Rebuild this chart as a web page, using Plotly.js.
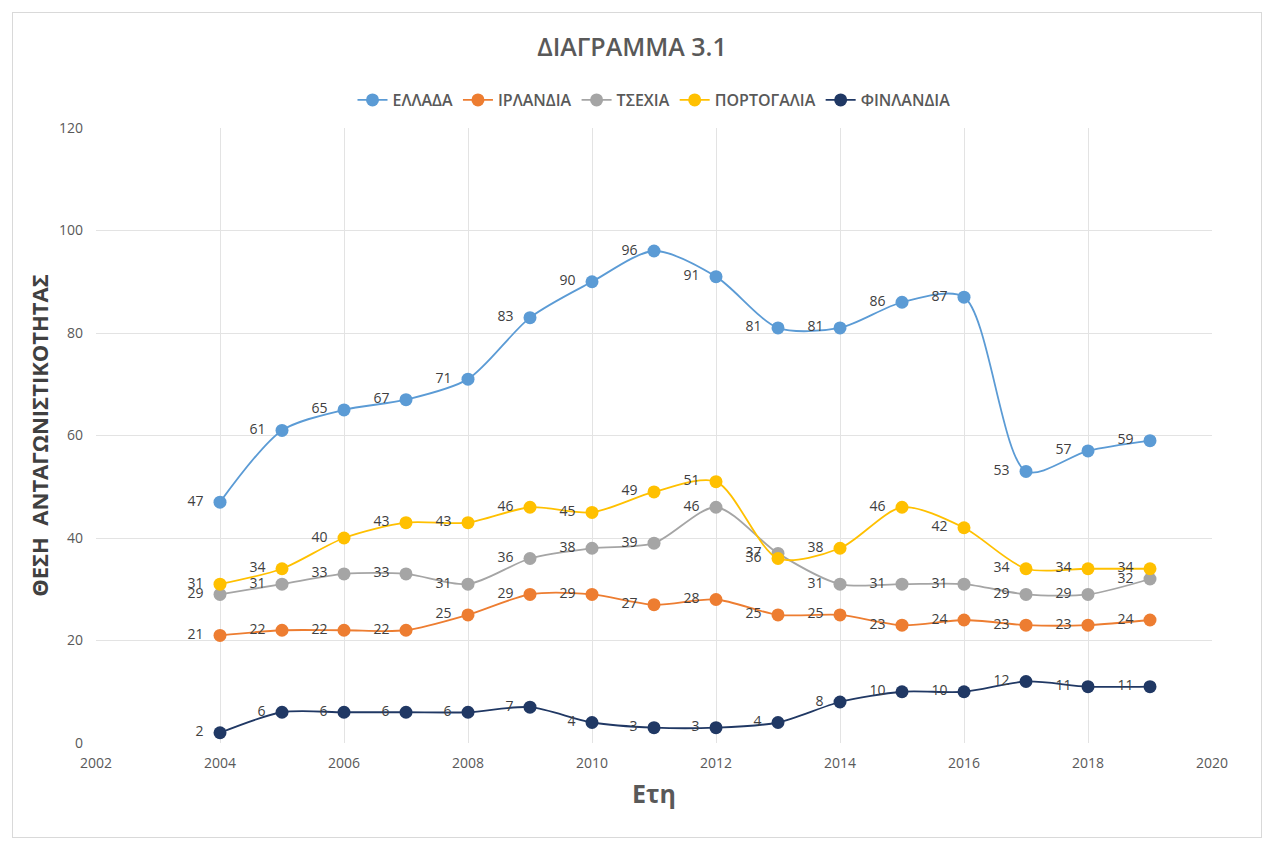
<!DOCTYPE html>
<html>
<head>
<meta charset="utf-8">
<script src="https://cdn.plot.ly/plotly-3.0.1.min.js"></script>
<style>
  html, body { margin: 0; padding: 0; background: #ffffff; }
  #wrap { position: relative; width: 1264px; height: 841px; }
  #chart { width: 1264px; height: 841px; }
  #frame { position: absolute; left: 12px; top: 12px; width: 1250px; height: 826px;
           border: 1px solid #d9d9d9; box-sizing: border-box; pointer-events: none; }
</style>
</head>
<body>
<div id="wrap">
  <div id="chart"></div>
  <div id="frame"></div>
</div>
<script>
const years = [2004, 2005, 2006, 2007, 2008, 2009, 2010, 2011, 2012, 2013, 2014, 2015, 2016, 2017, 2018, 2019];
const seriesNames = ["ΕΛΛΑΔΑ", "ΙΡΛΑΝΔΙΑ", "ΤΣΕΧΙΑ", "ΠΟΡΤΟΓΑΛΙΑ", "ΦΙΝΛΑΝΔΙΑ"];
const greece   = [47, 61, 65, 67, 71, 83, 90, 96, 91, 81, 81, 86, 87, 53, 57, 59];
const ireland  = [21, 22, 22, 22, 25, 29, 29, 27, 28, 25, 25, 23, 24, 23, 23, 24];
const czechia  = [29, 31, 33, 33, 31, 36, 38, 39, 46, 37, 31, 31, 31, 29, 29, 32];
const portugal = [31, 34, 40, 43, 43, 46, 45, 49, 51, 36, 38, 46, 42, 34, 34, 34];
const finland  = [2, 6, 6, 6, 6, 7, 4, 3, 3, 4, 8, 10, 10, 12, 11, 11];

const colors = ["#5B9BD5", "#ED7D31", "#A5A5A5", "#FFC000", "#203864"];
const allValues = [greece, ireland, czechia, portugal, finland];
const FONT = "Open Sans, DejaVu Sans, sans-serif";

const traces = allValues.map((vals, i) => ({
  type: "scatter",
  mode: "lines+markers+text",
  name: seriesNames[i],
  x: years,
  y: vals,
  text: vals.map(v => String(v) + "\u00a0\u00a0"),
  textposition: "middle left",
  textfont: { family: FONT, size: 14, color: "#404040" },
  line: { color: colors[i], width: 1.8, shape: "spline", smoothing: 0.8 },
  marker: { color: colors[i], size: 13 },
  cliponaxis: false,
  hoverinfo: "x+y+name"
}));

const layout = {
  width: 1264,
  height: 841,
  paper_bgcolor: "#ffffff",
  plot_bgcolor: "#ffffff",
  margin: { l: 96, r: 52, t: 128, b: 98 },
  font: { family: FONT, color: "#595959" },
  title: {
    text: "ΔΙΑΓΡΑΜΜΑ 3.1",
    font: { family: FONT, size: 25, color: "#595959", weight: 600 },
    x: 0.5, xanchor: "center",
    y: 1 - 47 / 841, yanchor: "middle", yref: "container"
  },
  showlegend: true,
  legend: {
    orientation: "h",
    x: 0.5, xanchor: "center",
    y: (743 - 100) / 615, yanchor: "middle",
    font: { family: FONT, size: 16, color: "#595959", weight: 600 },
    itemwidth: 30,
    tracegroupgap: 0
  },
  xaxis: {
    range: [2002, 2020],
    dtick: 2,
    tick0: 2002,
    showgrid: true,
    gridcolor: "#e3e3e3",
    gridwidth: 1,
    zeroline: false,
    showline: false,
    ticks: "",
    ticklabelstandoff: 10,
    tickfont: { family: FONT, size: 14, color: "#595959" },
    title: { text: "Ετη", font: { family: FONT, size: 25, color: "#595959", weight: 700 }, standoff: 14 }
  },
  yaxis: {
    range: [0, 120],
    dtick: 20,
    showgrid: true,
    gridcolor: "#e3e3e3",
    gridwidth: 1,
    zeroline: false,
    showline: false,
    ticks: "",
    ticklabelstandoff: 12,
    tickfont: { family: FONT, size: 14, color: "#595959" },
    title: { text: "ΘΕΣΗ  ΑΝΤΑΓΩΝΙΣΤΙΚΟΤΗΤΑΣ", font: { family: FONT, size: 22, color: "#404040", weight: 700 }, standoff: 4 }
  }
};

Plotly.newPlot("chart", traces, layout, { displayModeBar: false, staticPlot: true });
</script>
</body>
</html>
